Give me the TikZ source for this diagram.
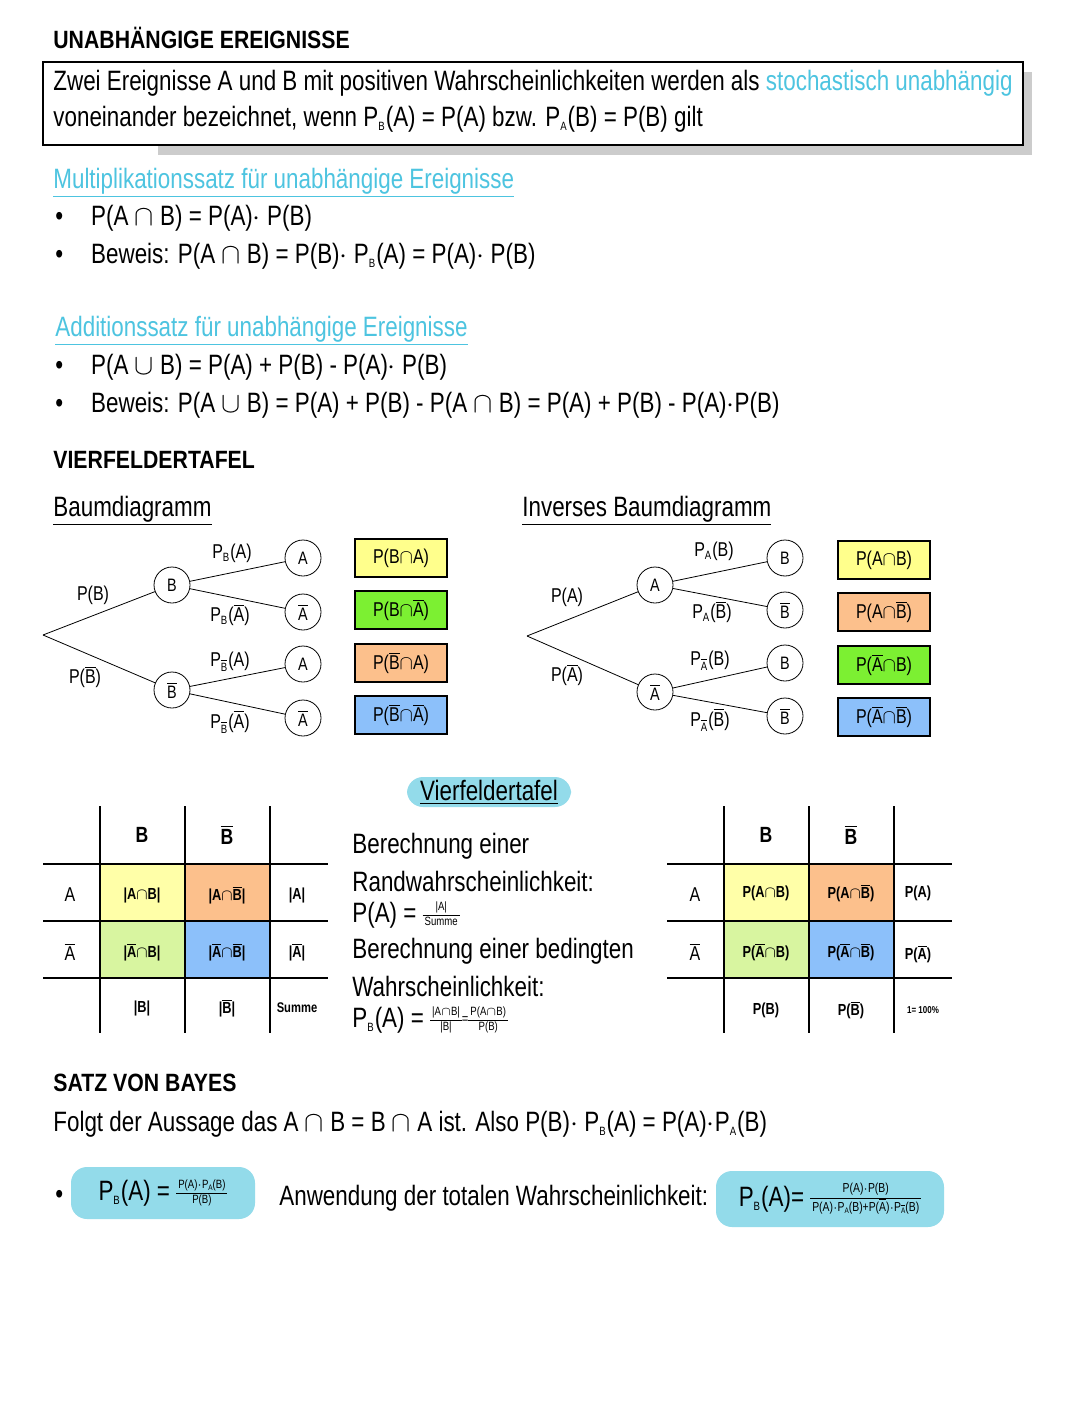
\documentclass[tikz,border=0pt]{standalone}
\usepackage{fontspec}
\setmainfont{Liberation Sans}[FakeStretch=0.8]
\newfontfamily\hfont{Liberation Sans}[FakeStretch=0.85]
\usetikzlibrary{positioning}
\definecolor{cy}{HTML}{4DC4E0}
\definecolor{cyf}{HTML}{93DBEA}
\definecolor{yel}{HTML}{FFFF8C}
\definecolor{grn}{HTML}{7CF032}
\definecolor{grnl}{HTML}{D8F5A0}
\definecolor{ora}{HTML}{FCC08C}
\definecolor{blu}{HTML}{8CC0FA}
\definecolor{yell}{HTML}{FFFFA8}
\newcommand{\ov}[1]{$\overline{\mbox{#1}}$}
\newcommand{\sbs}[1]{$_{\mbox{\fontsize{6}{6}\selectfont #1}}$}
\newcommand{\ssb}[1]{\raisebox{-1pt}{\fontsize{4}{4}\selectfont #1}}
\newcommand{\cp}{$\cap$}
\newcommand{\fr}[3][6]{$\vcenter{\hbox{\fontsize{#1}{#1}\selectfont\setlength{\tabcolsep}{1pt}\renewcommand{\arraystretch}{1.25}\begin{tabular}{c}#2\\\hline #3\end{tabular}}}$}
\newcommand{\veq}{$\vcenter{\hbox{\fontsize{7}{7}\selectfont=}}$}
\begin{document}
\begin{tikzpicture}[x=0.5pt,y=-0.5pt,
  txt/.style={anchor=west,inner sep=0,font=\fontsize{14}{16}\selectfont},
  ttl/.style={anchor=west,inner sep=0,font=\hfont\bfseries\fontsize{12.5}{14}\selectfont},
  hd/.style={anchor=west,inner sep=0,font=\fontsize{14}{16}\selectfont,text=cy},
  circ/.style={circle,draw,minimum size=18pt,inner sep=0,font=\fontsize{9}{10}\selectfont},
  res/.style={draw,thick,minimum width=46pt,minimum height=19pt,inner sep=0,font=\fontsize{10}{11}\selectfont},
  lab/.style={inner sep=0,font=\fontsize{10}{11}\selectfont},
  cell/.style={inner sep=0,font=\fontsize{8}{9}\selectfont\bfseries},
  tl/.style={line width=1pt}]
\useasboundingbox (0,0) rectangle (1080,1417);
\fill[white] (0,0) rectangle (1080,1417);
% header
\node[ttl] (t1) at (53,38) {UNABHÄNGIGE EREIGNISSE};
\fill[gray!40] (158,145) rectangle (1032,155);
\fill[gray!40] (1023,72) rectangle (1032,155);
\draw[line width=1.2pt] (43,62) rectangle (1023,145);
\node[txt] (l1) at (53,83) {Zwei Ereignisse A und B mit positiven Wahrscheinlichkeiten werden als \textcolor{cy}{stochastisch unabhängig}};
\node[txt] (l2) at (53,119) {voneinander bezeichnet, wenn P\sbs{B}(A) = P(A) bzw. P\sbs{A}(B) = P(B) gilt};
\node[hd] (m) at (53,183) {\underline{Multiplikationssatz für unabhängige Ereignisse}};
\node[txt] (m1) at (55,218) {\textbullet\quad P(A \cp{} B) = P(A)$\cdot$ P(B)};
\node[txt] (m2) at (55,256) {\textbullet\quad Beweis: P(A \cp{} B) = P(B)$\cdot$ P\sbs{B}(A) = P(A)$\cdot$ P(B)};
\node[hd] (a) at (55,331) {\underline{Additionssatz für unabhängige Ereignisse}};
\node[txt] (a1) at (55,367) {\textbullet\quad P(A $\cup$ B) = P(A) + P(B) - P(A)$\cdot$ P(B)};
\node[txt] (a2) at (55,405) {\textbullet\quad Beweis: P(A $\cup$ B) = P(A) + P(B) - P(A \cp{} B) = P(A) + P(B) - P(A)$\cdot$P(B)};
\node[ttl] (v) at (53,460) {VIERFELDERTAFEL};
\node[txt] (bd) at (53,511) {\underline{Baumdiagramm}};
\node[txt] (ibd) at (522,511) {\underline{Inverses Baumdiagramm}};
% left tree
\coordinate (r1) at (43,635);
\node[circ] (B) at (172,585) {B};
\node[circ] (Bn) at (172,690) {\ov{B}};
\node[circ] (L1) at (303,558) {A};
\node[circ] (L2) at (303,612) {\ov{A}};
\node[circ] (L3) at (303,664) {A};
\node[circ] (L4) at (303,718) {\ov{A}};
\draw (r1)--(B); \draw (r1)--(Bn);
\draw (B)--(L1); \draw (B)--(L2); \draw (Bn)--(L3); \draw (Bn)--(L4);
\node[lab] at (93,595) {P(B)};
\node[lab] at (85,677) {P(\ov{B})};
\node[lab] at (232,553) {P\sbs{B}(A)};
\node[lab] at (230,615) {P\sbs{B}(\ov{A})};
\node[lab] at (230,662) {P\sbs{\ov{B}}(A)};
\node[lab] at (230,722) {P\sbs{\ov{B}}(\ov{A})};
\node[res,fill=yel] (R1) at (401,558) {P(B\cp A)};
\node[res,fill=grn] (R2) at (401,610) {P(B\cp\ov{A})};
\node[res,fill=ora] (R3) at (401,663) {P(\ov{B}\cp A)};
\node[res,fill=blu] (R4) at (401,715) {P(\ov{B}\cp\ov{A})};
% right tree
\coordinate (r2) at (527,636);
\node[circ] (A) at (655,585) {A};
\node[circ] (An) at (655,692) {\ov{A}};
\node[circ] (K1) at (785,558) {B};
\node[circ] (K2) at (785,610) {\ov{B}};
\node[circ] (K3) at (785,663) {B};
\node[circ] (K4) at (785,716) {\ov{B}};
\draw (r2)--(A); \draw (r2)--(An);
\draw (A)--(K1); \draw (A)--(K2); \draw (An)--(K3); \draw (An)--(K4);
\node[lab] at (567,597) {P(A)};
\node[lab] at (567,675) {P(\ov{A})};
\node[lab] at (714,551) {P\sbs{A}(B)};
\node[lab] at (712,612) {P\sbs{A}(\ov{B})};
\node[lab] at (710,661) {P\sbs{\ov{A}}(B)};
\node[lab] at (710,720) {P\sbs{\ov{A}}(\ov{B})};
\node[res,fill=yel] (S1) at (884,560) {P(A\cp B)};
\node[res,fill=ora] (S2) at (884,612) {P(A\cp\ov{B})};
\node[res,fill=grn] (S3) at (884,665) {P(\ov{A}\cp B)};
\node[res,fill=blu] (S4) at (884,717) {P(\ov{A}\cp\ov{B})};
% Vierfeldertafel label
\node[fill=cyf,rounded corners=8pt,minimum width=82pt,minimum height=15pt,inner sep=0,font=\fontsize{14}{16}\selectfont] (vt) at (489,792) {\underline{Vierfeldertafel}};
% left table
\fill[yell] (100,864) rectangle (185,921);
\fill[ora] (185,864) rectangle (270,921);
\fill[grnl] (100,921) rectangle (185,978);
\fill[blu] (185,921) rectangle (270,978);
\foreach \x in {100,185,270} \draw[tl] (\x,806)--(\x,1033);
\foreach \y in {864,921,978} \draw[tl] (43,\y)--(328,\y);
\node[cell,font=\fontsize{11}{12}\selectfont\bfseries] at (142,835) {B};
\node[cell,font=\fontsize{11}{12}\selectfont\bfseries] at (227,835) {\ov{B}};
\node[cell,font=\fontsize{10}{12}\selectfont] at (70,895) {A};
\node[cell,font=\fontsize{10}{12}\selectfont] at (70,952) {\ov{A}};
\node[cell] at (142,895) {|A\cp B|};
\node[cell] at (227,895) {|A\cp\ov{B}|};
\node[cell] at (297,895) {|A|};
\node[cell] at (142,952) {|\ov{A}\cp B|};
\node[cell] at (227,952) {|\ov{A}\cp\ov{B}|};
\node[cell] at (297,952) {|\ov{A}|};
\node[cell] at (142,1008) {|B|};
\node[cell] at (227,1008) {|\ov{B}|};
\node[cell,font=\fontsize{7}{8}\selectfont\bfseries] at (297,1008) {Summe};
% middle text
\node[txt] (c1) at (352,846) {Berechnung einer};
\node[txt] (c2) at (352,881) {Randwahrscheinlichkeit:};
\node[txt] (c3) at (352,915) {P(A) = \fr{|A|}{Summe}};
\node[txt] (c4) at (352,951) {Berechnung einer bedingten};
\node[txt] (c5) at (352,986) {Wahrscheinlichkeit:};
\node[txt] (c6) at (352,1020) {P\sbs{B}(A) = \fr{|A\cp B|}{|B|}\veq\fr{P(A\cp B)}{P(B)}};
% right table
\fill[yell] (724,864) rectangle (809,921);
\fill[ora] (809,864) rectangle (894,921);
\fill[grnl] (724,921) rectangle (809,978);
\fill[blu] (809,921) rectangle (894,978);
\foreach \x in {724,809,894} \draw[tl] (\x,806)--(\x,1033);
\foreach \y in {864,921,978} \draw[tl] (667,\y)--(952,\y);
\node[cell,font=\fontsize{11}{12}\selectfont\bfseries] at (766,835) {B};
\node[cell,font=\fontsize{11}{12}\selectfont\bfseries] at (851,835) {\ov{B}};
\node[cell,font=\fontsize{10}{12}\selectfont] at (695,895) {A};
\node[cell,font=\fontsize{10}{12}\selectfont] at (695,952) {\ov{A}};
\node[cell] at (766,893) {P(A\cp B)};
\node[cell] at (851,893) {P(A\cp\ov{B})};
\node[cell] at (918,893) {P(A)};
\node[cell] at (766,952) {P(\ov{A}\cp B)};
\node[cell] at (851,952) {P(\ov{A}\cp\ov{B})};
\node[cell] at (918,954) {P(\ov{A})};
\node[cell] at (766,1010) {P(B)};
\node[cell] at (851,1010) {P(\ov{B})};
\node[cell,font=\fontsize{5}{6}\selectfont\bfseries] at (923,1010) {1= 100\%};
% Bayes
\node[ttl] (sb) at (53,1083) {SATZ VON BAYES};
\node[txt] (f1) at (53,1124) {Folgt der Aussage das A \cp{} B = B \cp{} A ist. Also P(B)$\cdot$ P\sbs{B}(A) = P(A)$\cdot$P\sbs{A}(B)};
\node[txt] (bul) at (55,1197) {\textbullet};
\node[fill=cyf,rounded corners=8pt,minimum width=92pt,minimum height=26pt,inner sep=0,font=\fontsize{14}{16}\selectfont] (bx1) at (163,1193) {P\sbs{B}(A) = \fr{P(A)$\cdot$P\ssb{A}(B)}{P(B)}};
\node[txt] (an) at (279,1198) {Anwendung der totalen Wahrscheinlichkeit:};
\node[fill=cyf,rounded corners=8pt,minimum width=114pt,minimum height=28pt,inner sep=0,font=\fontsize{14}{16}\selectfont] (bx2) at (830,1199) {P\sbs{B}(A)= \fr[6.5]{P(A)$\cdot$P(B)}{P(A)$\cdot$P\ssb{A}(B)+P(\ov{A})$\cdot$P\ssb{\ov{A}}(B)}};
\end{tikzpicture}
\end{document}
